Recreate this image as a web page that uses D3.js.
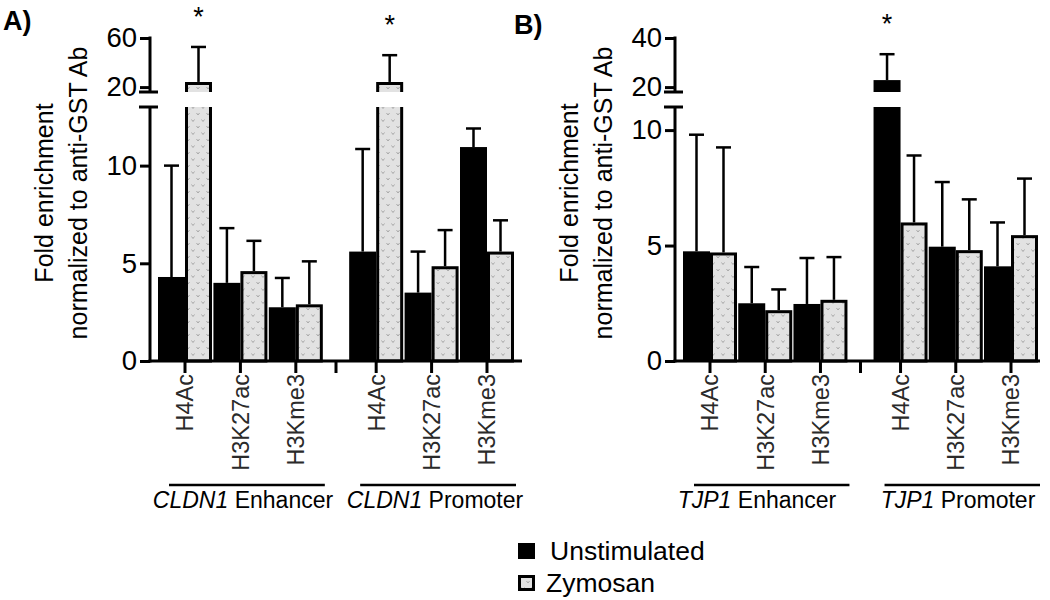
<!DOCTYPE html>
<html><head><meta charset="utf-8">
<script src="https://cdn.jsdelivr.net/npm/d3@7"></script>
<style>body{margin:0;background:#fff}text{font-family:"Liberation Sans",Arial,Helvetica,sans-serif}</style>
</head><body><svg id="c" width="1050" height="600"></svg>
<script>
// ---- data ----
const marks = ["H4Ac", "H3K27ac", "H3Kme3"];
const regions = ["Enhancer", "Promoter"];
const series = ["Unstimulated", "Zymosan"];
const genesA = "CLDN1", genesB = "TJP1";
// bar heights (mean) and top of error bar (mean + error), order: Enh H4Ac, H3K27ac, H3Kme3, Prom H4Ac, H3K27ac, H3Kme3
const A_unstim = [4.3, 4.0, 2.75, 5.6, 3.5, 10.95];
const A_unstimErr = [10.0, 6.8, 4.25, 10.85, 5.6, 11.9];
const A_zym = [24.2, 4.6, 2.9, 24.2, 4.85, 5.6];
const A_zymErr = [52.7, 6.15, 5.1, 46, 6.7, 7.2];
const B_unstim = [4.75, 2.5, 2.47, 22.85, 4.95, 4.1];
const B_unstimErr = [9.8, 4.07, 4.46, 33.4, 7.75, 6.0];
const B_zym = [4.7, 2.2, 2.65, 6.0, 4.8, 5.45];
const B_zymErr = [9.25, 3.1, 4.5, 8.9, 7.0, 7.9];
// significance markers: [series index, bar index]
const A_stars = [[1, 0], [1, 3]];
const B_stars = [[0, 3]];
// axis ticks
const A_lowTicks = [0, 5, 10], A_upTicks = [20, 60];
const B_lowTicks = [0, 5, 10], B_upTicks = [20, 40];

const svg = d3.select("#c");
const defs = svg.append("defs");
const pat = defs.append("pattern").attr("id", "vpat").attr("patternUnits", "userSpaceOnUse")
  .attr("width", 10).attr("height", 13);
pat.append("rect").attr("width", 10).attr("height", 13).attr("fill", "#e2e2e2");
pat.append("path").attr("d", "M1.5,2.5 l1.5,2 l1.5,-2 M6.5,9 l1.5,2 l1.5,-2")
  .attr("fill", "none").attr("stroke", "#a0a0a0").attr("stroke-width", 0.9);

const Y0 = 361, YLOWTOP = 107, YUPBOT = 92, YUPTOP = 38;

function panel(cfg) {
  const g = svg.append("g");
  const low = d3.scaleLinear().domain([0, cfg.lowMax]).range([Y0, YLOWTOP]);
  const up = d3.scaleLinear().domain([cfg.upMin, cfg.upMax]).range([YUPBOT, YUPTOP]);
  const yv = v => v <= cfg.lowMax ? low(v) : up(v);
  const slot = i => i + Math.floor(i / 3) * 0.45;
  const x = d3.scaleLinear().domain([0, 5.45]).range([cfg.c0, cfg.c1]);
  const bw = 27;
  const data = [cfg.unstim, cfg.zym];
  const errs = [cfg.unstimErr, cfg.zymErr];

  data.forEach((vals, s) => {
    vals.forEach((v, i) => {
      const c = x(slot(i));
      const x0 = s === 0 ? c - bw : c + 1.5;
      const x1 = s === 0 ? c : c + bw - 1.5;
      const fill = s === 0 ? "#000" : "url(#vpat)";
      if (v <= cfg.lowMax) {
        const yt = low(v) + (s === 0 ? 0 : 1.5);
        g.append("rect").attr("x", x0).attr("y", yt).attr("width", x1 - x0).attr("height", Y0 - yt)
          .attr("fill", fill).attr("stroke", s === 0 ? "none" : "#000").attr("stroke-width", s === 0 ? 0 : 3);
      } else {
        g.append("rect").attr("x", x0).attr("y", YLOWTOP).attr("width", x1 - x0).attr("height", Y0 - YLOWTOP).attr("fill", fill);
        const yt = up(v) + (s === 0 ? 0 : 1.5);
        g.append("rect").attr("x", x0).attr("y", yt).attr("width", x1 - x0).attr("height", YUPBOT - yt).attr("fill", fill);
        if (s === 1) {
          g.append("path").attr("d", `M${x0},${YLOWTOP}V${Y0}H${x1}V${YLOWTOP}`).attr("fill", "none").attr("stroke", "#000").attr("stroke-width", 3);
          g.append("path").attr("d", `M${x0},${YUPBOT}V${yt}H${x1}V${YUPBOT}`).attr("fill", "none").attr("stroke", "#000").attr("stroke-width", 3);
        }
      }
      const cx = s === 0 ? c - bw / 2 : c + bw / 2;
      const ye = yv(errs[s][i]);
      g.append("line").attr("x1", cx).attr("x2", cx).attr("y1", yv(v)).attr("y2", ye).attr("stroke", "#000").attr("stroke-width", 2.5);
      g.append("line").attr("x1", cx - 7.5).attr("x2", cx + 7.5).attr("y1", ye).attr("y2", ye).attr("stroke", "#000").attr("stroke-width", 2.5);
    });
  });
  cfg.stars.forEach(([s, i]) => {
    const c = x(slot(i));
    const cx = s === 0 ? c - bw / 2 : c + bw / 2;
    g.append("text").attr("x", cx).attr("y", yv(errs[s][i]) - 36 + 15).attr("text-anchor", "middle")
      .attr("font-size", 27).text("*");
  });

  // y axis (broken)
  const ax = cfg.axisX;
  const gl = g.append("g").attr("transform", `translate(${ax},0)`)
    .call(d3.axisLeft(low).tickValues(cfg.lowTicks).tickSize(10).tickPadding(3).tickFormat(d3.format("d")));
  const gu = g.append("g").attr("transform", `translate(${ax},0)`)
    .call(d3.axisLeft(up).tickValues(cfg.upTicks).tickSize(10).tickPadding(3).tickFormat(d3.format("d")));
  [gl, gu].forEach(a => {
    a.select(".domain").remove();
    a.selectAll(".tick line").attr("stroke", "#000").attr("stroke-width", 3);
    a.selectAll(".tick text").attr("font-size", 27.5).attr("fill", "#000")
      .style("font-family", '"Liberation Sans",Arial,sans-serif');
  });
  g.append("line").attr("x1", ax).attr("x2", ax).attr("y1", Y0 + 1.5).attr("y2", YLOWTOP).attr("stroke", "#000").attr("stroke-width", 3);
  g.append("line").attr("x1", ax).attr("x2", ax).attr("y1", YUPBOT).attr("y2", YUPTOP - 1.5).attr("stroke", "#000").attr("stroke-width", 3);
  [YLOWTOP, YUPBOT].forEach(yy => g.append("line").attr("x1", ax - 11).attr("x2", ax + 8).attr("y1", yy).attr("y2", yy)
    .attr("stroke", "#000").attr("stroke-width", 3));

  // x axis
  g.append("line").attr("x1", ax - 1.5).attr("x2", cfg.xEnd).attr("y1", Y0).attr("y2", Y0).attr("stroke", "#000").attr("stroke-width", 3);
  const tickPos = [0, 1, 2, 3, 4, 5].map(i => x(slot(i))).concat([x(2.725)]);
  tickPos.forEach(t => g.append("line").attr("x1", t).attr("x2", t).attr("y1", Y0).attr("y2", Y0 + 12).attr("stroke", "#000").attr("stroke-width", 3));
  [0, 1, 2, 3, 4, 5].forEach(i => {
    g.append("text").attr("transform", `translate(${x(slot(i))},${Y0 + 13}) rotate(-90)`)
      .attr("text-anchor", "end").attr("dy", "0.36em").attr("font-size", 23.5).attr("fill", "#2a2a2a")
      .text(marks[i % 3]);
  });
  regions.forEach((r, k) => {
    const l = x(slot(k * 3)) - 16, rr = Math.min(x(slot(k * 3 + 2)) + 29, cfg.xEnd);
    g.append("line").attr("x1", l).attr("x2", rr).attr("y1", 485).attr("y2", 485).attr("stroke", "#000").attr("stroke-width", 2.5);
    const t = g.append("text").attr("x", cfg.labelX[k]).attr("y", 508).attr("text-anchor", "middle").attr("font-size", 23);
    t.append("tspan").attr("font-style", "italic").text(cfg.gene);
    t.append("tspan").text(" " + r);
  });

  g.append("text").attr("transform", `translate(${ax - 97},193) rotate(-90)`).attr("text-anchor", "middle").attr("font-size", 25)
    .text("Fold enrichment");
  g.append("text").attr("transform", `translate(${ax - 63},193) rotate(-90)`).attr("text-anchor", "middle").attr("font-size", 25)
    .text("normalized to anti-GST Ab");
  g.append("text").attr("x", cfg.letterX).attr("y", cfg.letterY).attr("font-size", 27).attr("font-weight", "bold").text(cfg.letter);
}

panel({ lowMax: 13, upMin: 16, upMax: 60, lowTicks: A_lowTicks, upTicks: A_upTicks, c0: 185, c1: 487, axisX: 150, xEnd: 522,
  unstim: A_unstim, unstimErr: A_unstimErr, zym: A_zym, zymErr: A_zymErr, stars: A_stars, gene: genesA,
  labelX: [243, 435], letter: "A)", letterX: 3, letterY: 30 });
panel({ lowMax: 11, upMin: 18, upMax: 40, lowTicks: B_lowTicks, upTicks: B_upTicks, c0: 710, c1: 1011, axisX: 675, xEnd: 1040,
  unstim: B_unstim, unstimErr: B_unstimErr, zym: B_zym, zymErr: B_zymErr, stars: B_stars, gene: genesB,
  labelX: [757, 958], letter: "B)", letterX: 514, letterY: 34 });

// legend
const lg = svg.append("g");
series.forEach((s, i) => {
  const yy = 543 + i * 32;
  if (i === 0) lg.append("rect").attr("x", 518).attr("y", yy).attr("width", 17).attr("height", 16).attr("fill", "#000");
  else lg.append("rect").attr("x", 519.5).attr("y", yy + 1.5).attr("width", 14).attr("height", 13).attr("fill", "url(#vpat)")
    .attr("stroke", "#000").attr("stroke-width", 3);
  lg.append("text").attr("x", i === 0 ? 550 : 546).attr("y", yy + 17).attr("font-size", 26.5).text(s);
});
</script></body></html>
